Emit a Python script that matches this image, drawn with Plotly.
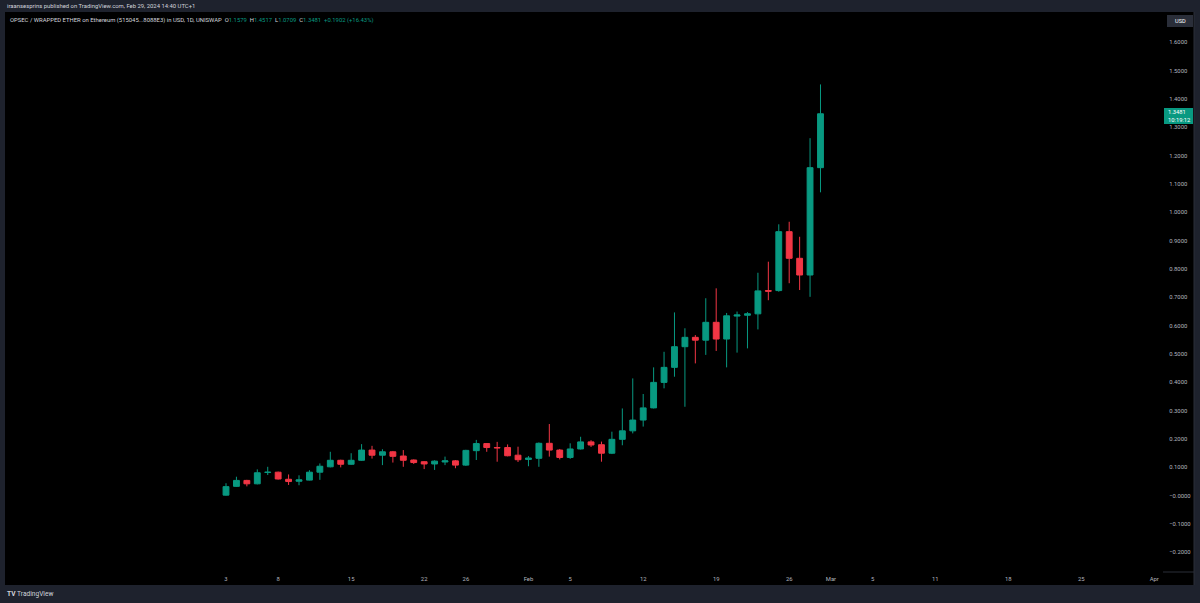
import pandas as pd
import plotly.graph_objects as go

# ---------------- data ----------------
dates = pd.date_range("2024-01-03", periods=58, freq="D")

opens = [0.002, 0.033, 0.054, 0.042, 0.082, 0.083, 0.058, 0.051, 0.055, 0.083,
         0.102, 0.125, 0.111, 0.125, 0.161, 0.143, 0.155, 0.140, 0.126, 0.120,
         0.112, 0.119, 0.123, 0.108, 0.159, 0.184, 0.170, 0.170, 0.143, 0.128,
         0.132, 0.185, 0.161, 0.135, 0.165, 0.190, 0.180, 0.150, 0.199, 0.229,
         0.267, 0.310, 0.400, 0.453, 0.526, 0.559, 0.549, 0.612, 0.553, 0.634,
         0.637, 0.642, 0.724, 0.724, 0.932, 0.838, 0.779, 1.1579]
highs = [0.044, 0.067, 0.056, 0.093, 0.102, 0.085, 0.075, 0.072, 0.090, 0.114,
         0.155, 0.127, 0.150, 0.182, 0.176, 0.164, 0.158, 0.161, 0.128, 0.122,
         0.125, 0.138, 0.126, 0.162, 0.197, 0.186, 0.190, 0.181, 0.173, 0.140,
         0.188, 0.253, 0.165, 0.185, 0.208, 0.196, 0.191, 0.226, 0.308, 0.414,
         0.359, 0.453, 0.508, 0.647, 0.591, 0.567, 0.697, 0.732, 0.645, 0.650,
         0.648, 0.787, 0.826, 0.958, 0.967, 0.914, 1.262, 1.4517]
lows = [0.000, 0.031, 0.033, 0.040, 0.073, 0.057, 0.038, 0.037, 0.054, 0.056,
        0.100, 0.100, 0.109, 0.123, 0.131, 0.108, 0.117, 0.102, 0.112, 0.094,
        0.091, 0.108, 0.097, 0.105, 0.126, 0.155, 0.120, 0.139, 0.119, 0.104,
        0.102, 0.138, 0.128, 0.130, 0.163, 0.172, 0.120, 0.147, 0.178, 0.220,
        0.244, 0.308, 0.379, 0.420, 0.314, 0.467, 0.497, 0.511, 0.453, 0.505,
        0.520, 0.587, 0.690, 0.720, 0.750, 0.726, 0.702, 1.0709]
closes = [0.032, 0.054, 0.042, 0.081, 0.083, 0.059, 0.050, 0.056, 0.083, 0.104,
          0.125, 0.111, 0.125, 0.161, 0.143, 0.155, 0.139, 0.125, 0.117, 0.112,
          0.122, 0.123, 0.108, 0.160, 0.184, 0.170, 0.169, 0.141, 0.127, 0.133,
          0.185, 0.161, 0.135, 0.165, 0.190, 0.179, 0.150, 0.199, 0.229, 0.267,
          0.310, 0.400, 0.453, 0.526, 0.559, 0.549, 0.612, 0.553, 0.635, 0.638,
          0.642, 0.723, 0.722, 0.932, 0.838, 0.779, 1.1579, 1.3481]

x_tick_dates = ["2024-01-03", "2024-01-08", "2024-01-15", "2024-01-22", "2024-01-26",
                "2024-02-01", "2024-02-05", "2024-02-12", "2024-02-19", "2024-02-26",
                "2024-03-01", "2024-03-05", "2024-03-11", "2024-03-18", "2024-03-25",
                "2024-04-01"]
x_tick_labels = ["3", "8", "15", "22", "26", "Feb", "5", "12", "19", "26",
                 "Mar", "5", "11", "18", "25", "Apr"]
y_tick_vals = [-0.2, -0.1, 0.0, 0.1, 0.2, 0.3, 0.4, 0.5, 0.6, 0.7, 0.8,
               0.9, 1.0, 1.1, 1.2, 1.3, 1.4, 1.5, 1.6]
y_tick_labels = ["\u22120.2000", "\u22120.1000", "\u22120.0000", "0.1000", "0.2000",
                 "0.3000", "0.4000", "0.5000", "0.6000", "0.7000", "0.8000",
                 "0.9000", "1.0000", "1.1000", "1.2000", "1.3000", "1.4000",
                 "1.5000", "1.6000"]

# ---------------- style ----------------
W, H = 1200, 603
ML, MR, MT, MB = 5, 37, 28, 31
PW, PH = W - ML - MR, H - MT - MB
GREEN = "#089981"
RED = "#f23645"
FRAME = "#1e222d"
TXT = "#d1d4dc"
AXT = "#b2b5be"
FONT = "Roboto, Arial, sans-serif"
FS = 5.9


def px(xp):
    return (xp - ML) / PW


def py(yp):
    return (H - MB - yp) / PH


fig = go.Figure()
fig.add_trace(go.Candlestick(
    x=dates, open=opens, high=highs, low=lows, close=closes,
    increasing=dict(line=dict(color=GREEN, width=1), fillcolor=GREEN),
    decreasing=dict(line=dict(color=RED, width=1), fillcolor=RED),
    whiskerwidth=0, hoverinfo="skip", showlegend=False,
))

shapes = []
# frame strips
for x0, y0, x1, y1 in [(0, 0, W, 12), (0, 585, W, H), (0, 0, 5, H), (1194, 0, W, H)]:
    shapes.append(dict(type="rect", xref="paper", yref="paper",
                       x0=px(x0), x1=px(x1), y0=py(y1), y1=py(y0),
                       fillcolor=FRAME, line=dict(width=0), layer="above"))
# border lines
shapes.append(dict(type="line", xref="paper", yref="paper",
                   x0=px(1194), x1=px(1194), y0=py(585), y1=py(12),
                   line=dict(color="#2a2e39", width=1)))
shapes.append(dict(type="line", xref="paper", yref="paper",
                   x0=px(1163), x1=px(1194), y0=py(572), y1=py(572),
                   line=dict(color="#2a2e39", width=1)))
# USD button
shapes.append(dict(type="rect", xref="paper", yref="paper",
                   x0=px(1167), x1=px(1193), y0=py(27), y1=py(15),
                   fillcolor="#2a2e39", line=dict(width=0)))
# price label box
shapes.append(dict(type="rect", xref="paper", yref="paper",
                   x0=px(1164), x1=px(1193), y0=py(124), y1=py(108),
                   fillcolor=GREEN, line=dict(width=0)))

annotations = [
    dict(text="iraansesprins published on TradingView.com, Feb 29, 2024 14:40 UTC+1",
         xref="paper", yref="paper", x=px(5), y=py(6), xanchor="left", yanchor="middle",
         showarrow=False, font=dict(size=FS, color=TXT, family=FONT)),
    dict(text=("OPSEC / WRAPPED ETHER on Ethereum (515045...8088E3) in USD, 1D, UNISWAP"
               "&nbsp;&nbsp;O<span style='color:%s'>1.1579</span>&nbsp;&nbsp;H<span style='color:%s'>1.4517</span>"
               "&nbsp;&nbsp;L<span style='color:%s'>1.0709</span>&nbsp;&nbsp;C<span style='color:%s'>1.3481</span>"
               "&nbsp;&nbsp;<span style='color:%s'>+0.1902 (+16.43%%)</span>") % (GREEN, GREEN, GREEN, GREEN, GREEN),
         xref="paper", yref="paper", x=px(8), y=py(20), xanchor="left", yanchor="middle",
         showarrow=False, font=dict(size=FS, color=TXT, family=FONT)),
    dict(text="USD", xref="paper", yref="paper", x=px(1180), y=py(21),
         xanchor="center", yanchor="middle", showarrow=False,
         font=dict(size=5.6, color="#ffffff", family=FONT)),
    dict(text="1.3481", xref="paper", yref="paper", x=px(1166), y=py(112),
         xanchor="left", yanchor="middle", showarrow=False,
         font=dict(size=5.8, color="#ffffff", family=FONT)),
    dict(text="10:19:12", xref="paper", yref="paper", x=px(1166), y=py(120),
         xanchor="left", yanchor="middle", showarrow=False,
         font=dict(size=5.8, color="#ffffff", family=FONT)),
    dict(text="<b>TV</b>&nbsp;TradingView", xref="paper", yref="paper", x=px(5), y=py(594),
         xanchor="left", yanchor="middle", showarrow=False,
         font=dict(size=6.6, color=TXT, family=FONT)),
]

fig.update_layout(
    width=W, height=H,
    margin=dict(l=ML, r=MR, t=MT, b=MB, pad=0),
    paper_bgcolor="#000000", plot_bgcolor="#000000",
    boxgap=0.2,
    shapes=shapes, annotations=annotations,
    showlegend=False,
    font=dict(family=FONT, color=AXT, size=FS),
)
fig.update_xaxes(
    type="date", range=["2023-12-12 19:26", "2024-04-01 20:10"],
    tickvals=x_tick_dates, ticktext=x_tick_labels,
    showgrid=False, zeroline=False, showline=False,
    ticks="outside", ticklen=1, tickcolor="rgba(0,0,0,0)",
    tickfont=dict(size=FS, color=AXT, family=FONT),
    rangeslider=dict(visible=False),
)
fig.update_yaxes(
    side="right", range=[-0.2693, 1.6509],
    tickvals=y_tick_vals, ticktext=y_tick_labels,
    showgrid=False, zeroline=False, showline=False,
    ticks="outside", ticklen=4, tickcolor="rgba(0,0,0,0)",
    tickfont=dict(size=FS, color=AXT, family=FONT),
)

fig.write_html("out.html")
